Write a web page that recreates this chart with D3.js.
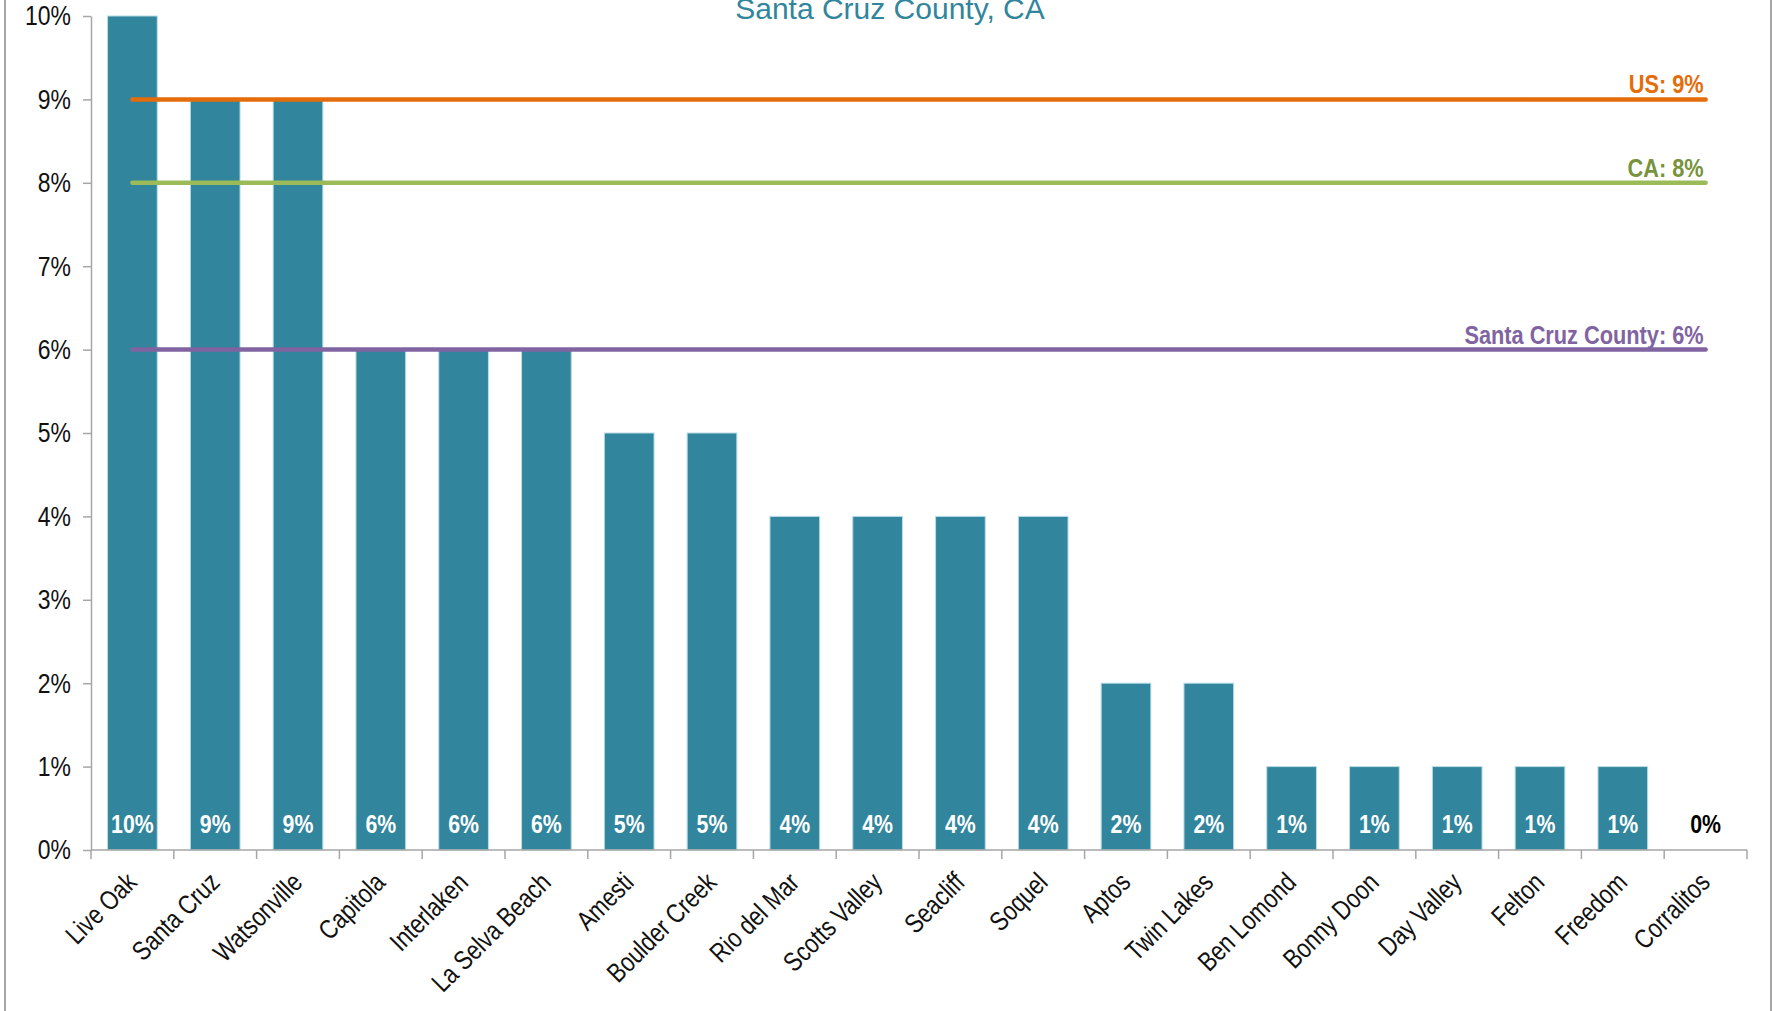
<!DOCTYPE html>
<meta charset="utf-8">
<head>
    <script type="text/javascript" src="https://d3js.org/d3.v7.min.js"></script>
    <style>
        body { margin: 0; background: #fff; }
        svg { display: block; }
        text { font-family: "Liberation Sans", Arial, sans-serif; }
    </style>
</head>
<body>
<div id="chart"></div>
<script>

    // data
    let places = ['Live Oak', 'Santa Cruz', 'Watsonville', 'Capitola', 'Interlaken', 'La Selva Beach',
        'Amesti', 'Boulder Creek', 'Rio del Mar', 'Scotts Valley', 'Seacliff', 'Soquel', 'Aptos',
        'Twin Lakes', 'Ben Lomond', 'Bonny Doon', 'Day Valley', 'Felton', 'Freedom', 'Corralitos']
    let shares = [0.10, 0.09, 0.09, 0.06, 0.06, 0.06, 0.05, 0.05, 0.04, 0.04, 0.04, 0.04, 0.02,
        0.02, 0.01, 0.01, 0.01, 0.01, 0.01, 0.00]

    let refNames = ['US: 9%', 'CA: 8%', 'Santa Cruz County: 6%']
    let refValues = [0.09, 0.08, 0.06]
    let refColors = ['#e46c0a', '#9bbb59', '#8064a2']
    let refTextColors = ['#e46c0a', '#77933c', '#8064a2']

    let svg_width = 1775;
    let svg_height = 1011;

    let padding = { top: 16, right: 28, bottom: 161, left: 91 };

    // no narrow font here, so squeeze the text horizontally
    let squeeze = 0.82

    let svg = d3.select("#chart")
        .append("svg")
        .attr("width", svg_width)
        .attr("height", svg_height)

    // chart frame
    svg.append("rect")
        .attr("x", 5)
        .attr("y", -20)
        .attr("width", 1766)
        .attr("height", 1060)
        .attr("fill", "none")
        .attr("stroke", "#a6a6a6")
        .attr("stroke-width", 2)

    let x = d3.scaleBand()
        .domain(places)
        .range([padding.left, svg_width - padding.right])
        .paddingInner(0.4)
        .paddingOuter(0.2)

    let y = d3.scaleLinear()
        .domain([0, 0.10])
        .range([svg_height - padding.bottom, padding.top])

    // title
    svg.append("text")
        .attr("x", 890)
        .attr("y", 19)
        .attr("text-anchor", "middle")
        .attr("font-size", 30)
        .attr("fill", "#31859c")
        .text("Santa Cruz County, CA")

    // y axis
    let yAxis = svg.append("g")
        .attr("transform", "translate(" + padding.left + ",0)")
        .call(d3.axisLeft(y).ticks(10).tickFormat(d3.format(".0%")).tickSize(8).tickSizeOuter(0))

    yAxis.select(".domain").attr("stroke", "#a6a6a6").attr("stroke-width", 1.5)
    yAxis.selectAll(".tick line").attr("stroke", "#a6a6a6").attr("stroke-width", 1.5)
    yAxis.selectAll(".tick text")
        .attr("font-size", 28)
        .attr("font-family", null)
        .attr("fill", "#111")
        .attr("x", 0)
        .attr("transform", "translate(-20,0) scale(" + squeeze + ",1)")

    // bars
    svg.append("g")
        .selectAll("rect")
        .data(places)
        .enter()
        .append("rect")
        .attr("x", d => x(d))
        .attr("y", (d, i) => y(shares[i]))
        .attr("width", x.bandwidth())
        .attr("height", (d, i) => y(0) - y(shares[i]))
        .attr("fill", "#31859c")
        .attr("stroke", "#b9dbe6")
        .attr("stroke-width", 1)

    // x axis line and boundary ticks
    let base = y(0)
    svg.append("line")
        .attr("x1", padding.left)
        .attr("x2", svg_width - padding.right)
        .attr("y1", base)
        .attr("y2", base)
        .attr("stroke", "#a6a6a6")
        .attr("stroke-width", 1.5)

    let bounds = places.map(d => x(d) - x.step() * 0.2).concat([svg_width - padding.right])
    svg.append("g")
        .selectAll("line")
        .data(bounds)
        .enter()
        .append("line")
        .attr("x1", d => d)
        .attr("x2", d => d)
        .attr("y1", base)
        .attr("y2", base + 9)
        .attr("stroke", "#a6a6a6")
        .attr("stroke-width", 1.5)

    // rotated category labels
    svg.append("g")
        .selectAll("text")
        .data(places)
        .enter()
        .append("text")
        .attr("font-size", 27)
        .attr("fill", "#111")
        .attr("text-anchor", "end")
        .attr("transform", d => "translate(" + (x(d) + x.bandwidth() / 2 + 6) + "," + (base + 34) + ") rotate(-45) scale(" + squeeze + ",1)")
        .text(d => d)

    // value labels inside bars
    svg.append("g")
        .selectAll("text")
        .data(places)
        .enter()
        .append("text")
        .attr("font-size", 26)
        .attr("font-weight", "bold")
        .attr("text-anchor", "middle")
        .attr("fill", (d, i) => shares[i] === 0 ? "#000" : "#fff")
        .attr("transform", d => "translate(" + (x(d) + x.bandwidth() / 2) + "," + (base - 17) + ") scale(" + squeeze + ",1)")
        .text((d, i) => d3.format(".0%")(shares[i]))

    // reference lines
    let x1 = x(places[0]) + x.bandwidth() / 2
    let x2 = x(places[places.length - 1]) + x.bandwidth() / 2

    for (let i = 0; i < refValues.length; i = i + 1) {

        svg.append("line")
            .attr("x1", x1)
            .attr("x2", x2)
            .attr("y1", y(refValues[i]))
            .attr("y2", y(refValues[i]))
            .attr("stroke", refColors[i])
            .attr("stroke-width", 4.5)
            .attr("stroke-linecap", "round")

        svg.append("text")
            .attr("transform", "translate(" + (x2 - 2) + "," + (y(refValues[i]) - 6) + ") scale(0.87,1)")
            .attr("text-anchor", "end")
            .attr("font-size", 25)
            .attr("font-weight", "bold")
            .attr("fill", refTextColors[i])
            .text(refNames[i])

    }
</script>
</body>
</html>
